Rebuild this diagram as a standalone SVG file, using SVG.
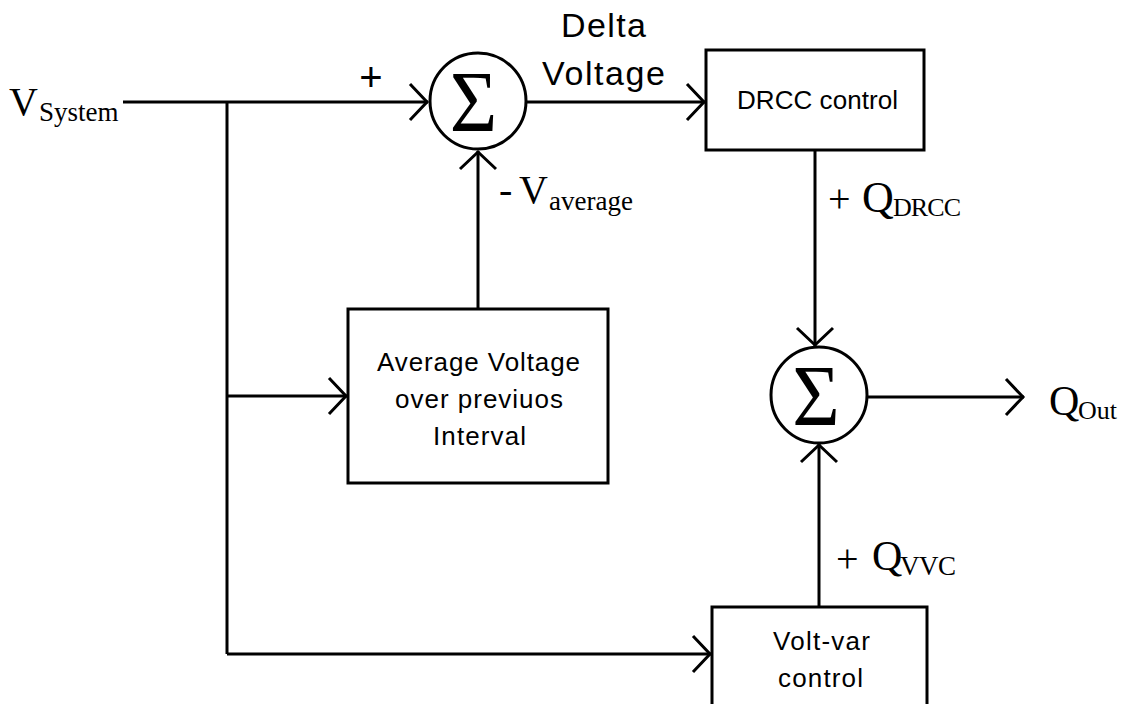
<svg xmlns="http://www.w3.org/2000/svg" width="1121" height="704" viewBox="0 0 1121 704">
  <defs>
    <style>
      .ln { fill: none; stroke: #000; stroke-width: 3; }
      .box { fill: #fff; stroke: #000; stroke-width: 3; }
      .sum { fill: #fff; stroke: #000; stroke-width: 3; }
      .sans { font-family: "Liberation Sans", Arial, sans-serif; fill: #000; }
      .serif { font-family: "Liberation Serif", "Times New Roman", serif; fill: #000; }
    </style>
    <marker id="arr" viewBox="-20 -20 22 40" refX="0" refY="0" markerWidth="22" markerHeight="40" markerUnits="userSpaceOnUse" orient="auto">
      <path d="M-18,-18 L-1,0 L-18,18" fill="none" stroke="#000" stroke-width="3"/>
    </marker>
  </defs>
  <rect width="1121" height="704" fill="#fff"/>

  <g id="connectors">
    <path class="ln" d="M123,102 H428" marker-end="url(#arr)"/>
    <path class="ln" d="M227,102 V654"/>
    <path class="ln" d="M227,396 H347" marker-end="url(#arr)"/>
    <path class="ln" d="M227,654 H711" marker-end="url(#arr)"/>
    <path class="ln" d="M478,309 V151" marker-end="url(#arr)"/>
    <path class="ln" d="M526,102 H705" marker-end="url(#arr)"/>
    <path class="ln" d="M815,150 V346" marker-end="url(#arr)"/>
    <path class="ln" d="M819,607 V444" marker-end="url(#arr)"/>
    <path class="ln" d="M867,397 H1024" marker-end="url(#arr)"/>
  </g>

  <g id="vsystem">
    <text class="serif" x="9" y="115" font-size="40">V<tspan font-size="27" x="39" y="121">System</tspan></text>
  </g>

  <g id="plus-label">
    <text class="sans" x="371" y="91" font-size="40" text-anchor="middle">+</text>
  </g>

  <g id="sum1">
    <circle class="sum" cx="478" cy="101" r="48"/>
    <text class="serif" transform="translate(473.5,131) scale(0.95,1)" font-size="86" text-anchor="middle">Σ</text>
  </g>

  <g id="delta-label">
    <text class="sans" x="561" y="37" font-size="34" textLength="85">Delta</text>
    <text class="sans" x="542" y="85" font-size="34" textLength="123">Voltage</text>
  </g>

  <g id="vaverage-label">
    <text class="serif" x="499" y="203" font-size="40">-</text>
    <text class="serif" x="519" y="203" font-size="40">V<tspan font-size="27" x="549" y="210">average</tspan></text>
  </g>

  <g id="drcc">
    <rect class="box" x="706" y="50" width="218" height="100"/>
    <text class="sans" x="737" y="109" font-size="26" textLength="161">DRCC control</text>
  </g>

  <g id="qdrcc-label">
    <text class="serif" x="828" y="212" font-size="40">+</text>
    <text class="serif" x="862" y="212" font-size="44">Q<tspan font-size="26" x="893" y="216" textLength="68">DRCC</tspan></text>
  </g>

  <g id="avg">
    <rect class="box" x="348" y="309" width="260" height="174"/>
    <text class="sans" x="377" y="371" font-size="26" textLength="203">Average Voltage</text>
    <text class="sans" x="395" y="408" font-size="26" textLength="168">over previuos</text>
    <text class="sans" x="433" y="445" font-size="26" textLength="93">Interval</text>
  </g>

  <g id="sum2">
    <circle class="sum" cx="819" cy="395" r="48"/>
    <text class="serif" transform="translate(816,425) scale(0.95,1)" font-size="86" text-anchor="middle">Σ</text>
  </g>

  <g id="qout-label">
    <text class="serif" x="1049" y="415" font-size="42">Q<tspan font-size="26" x="1078" y="419">Out</tspan></text>
  </g>

  <g id="qvvc-label">
    <text class="serif" x="836" y="572" font-size="40">+</text>
    <text class="serif" x="872" y="570" font-size="42">Q<tspan font-size="27" x="900" y="575" textLength="56">VVC</tspan></text>
  </g>

  <g id="voltvar">
    <rect class="box" x="712" y="607" width="215" height="120"/>
    <text class="sans" x="773" y="650" font-size="26" textLength="97">Volt-var</text>
    <text class="sans" x="778" y="687" font-size="26" textLength="85">control</text>
  </g>
</svg>
